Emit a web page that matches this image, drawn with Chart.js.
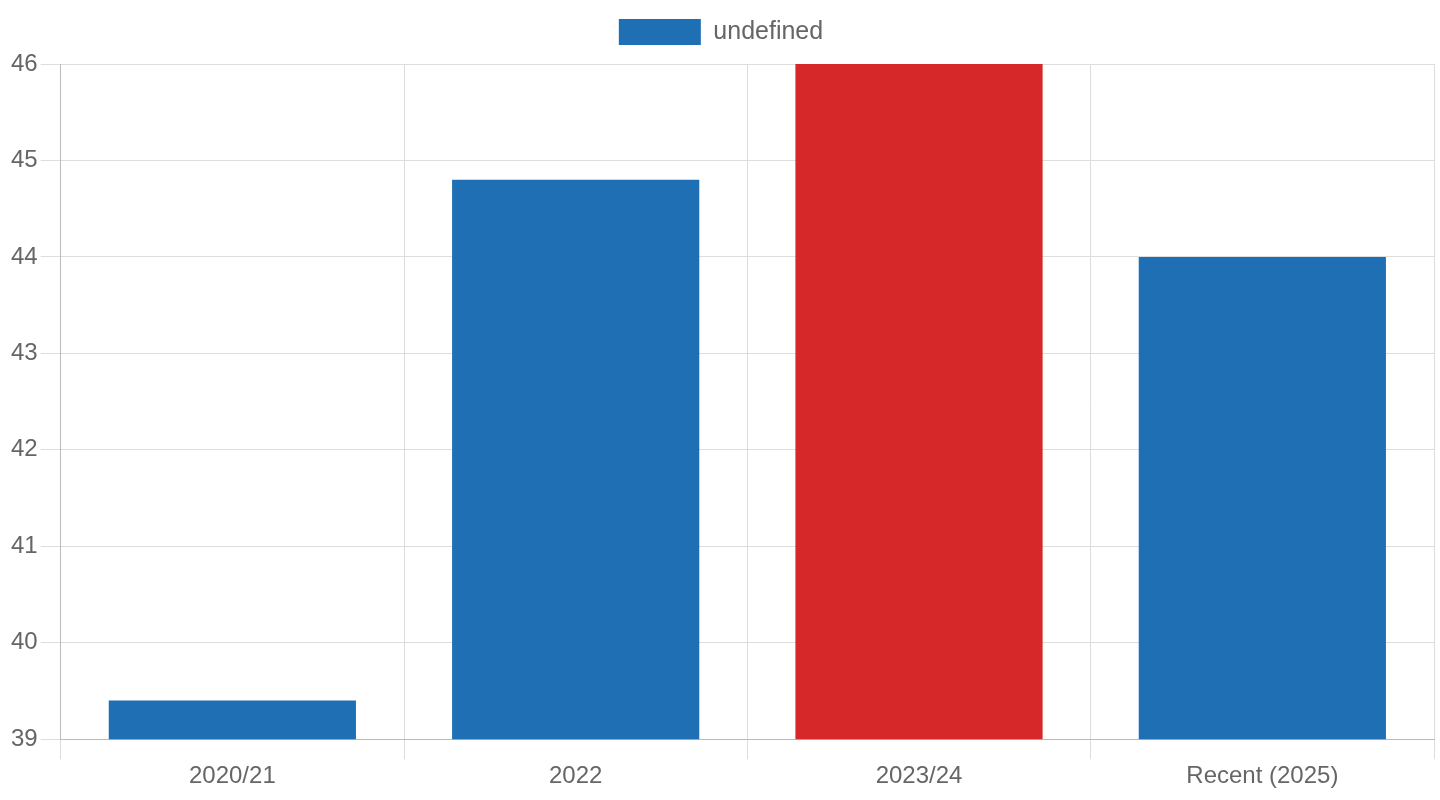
<!DOCTYPE html>
<html>
<head>
<meta charset="utf-8">
<script src="https://cdn.jsdelivr.net/npm/chart.js@4/dist/chart.umd.min.js"></script>
<style>
html,body{margin:0;padding:0;background:#fff;}
#wrap{width:1440px;height:800px;position:relative;}
</style>
</head>
<body>
<div id="wrap"><canvas id="c"></canvas></div>
<script>
const categories = ["2020/21", "2022", "2023/24", "Recent (2025)"];
const values = [39.4, 44.8, 46, 44.0];
const barColors = ["#1f6fb5", "#1f6fb5", "#d62828", "#1f6fb5"];
const yMin = 39;
const yMax = 46;

Chart.defaults.font.family = "'Liberation Sans', Arial, sans-serif";
Chart.defaults.font.size = 24;
Chart.defaults.color = "#666";

const legendGap = {
  id: 'legendGap',
  beforeInit(chart) {
    const origFit = chart.legend.fit;
    chart.legend.fit = function () {
      origFit.call(this);
      this.height += 9;
    };
  }
};

new Chart(document.getElementById('c'), {
  type: 'bar',
  data: {
    labels: categories,
    datasets: [{
      data: values,
      backgroundColor: barColors,
      borderWidth: 0
    }]
  },
  options: {
    responsive: true,
    maintainAspectRatio: false,
    animation: false,
    layout: { padding: { left: 8, right: 6, top: 0, bottom: 6 } },
    plugins: {
      legend: {
        display: true,
        labels: { boxWidth: 82, boxHeight: 26, padding: 19, color: '#666', font: { size: 25 } }
      },
      tooltip: { enabled: false }
    },
    scales: {
      x: {
        grid: { color: '#dddddd', tickLength: 20 },
        border: { color: '#bbbbbb' },
        ticks: { color: '#666', font: { size: 24 } }
      },
      y: {
        min: yMin,
        max: yMax,
        grid: { color: '#dddddd', tickLength: 20 },
        border: { color: '#bbbbbb' },
        ticks: { stepSize: 1, color: '#666', font: { size: 24 }, padding: 3 }
      }
    }
  },
  plugins: [legendGap]
});
</script>
</body>
</html>
